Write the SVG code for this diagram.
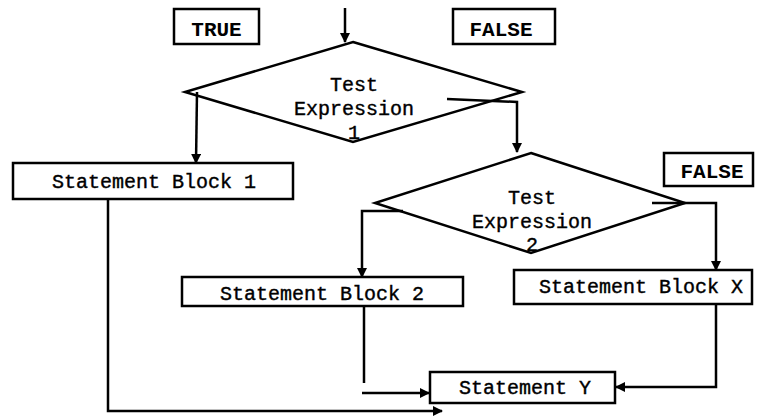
<svg xmlns="http://www.w3.org/2000/svg" width="760" height="416" viewBox="0 0 760 416">
<style>
.box{fill:#fff;stroke:#000;stroke-width:2.5}
.dia{fill:#fff;stroke:#000;stroke-width:2.5;stroke-linejoin:miter}
.t{font-family:"Liberation Mono","Courier New",monospace;font-size:20px;fill:#000;stroke:#000;stroke-width:0.4;text-anchor:middle}
.lbl{font-family:"Liberation Mono","Courier New",monospace;font-size:21px;font-weight:bold;fill:#000;text-anchor:middle}
.c{fill:none;stroke:#000;stroke-width:2.5}
</style>
<defs>
<marker id="ah" markerWidth="10" markerHeight="10" refX="9" refY="5" orient="auto" markerUnits="userSpaceOnUse">
<path d="M0,0 L10,5 L0,10 Z" fill="#000"/>
</marker>
</defs>
<g id="label-true"><rect class="box" x="174" y="9" width="85" height="35"/><text class="lbl" x="216.5" y="36">TRUE</text></g>
<g id="label-false1"><rect class="box" x="453" y="9" width="102" height="35"/><text class="lbl" x="501" y="36">FALSE</text></g>
<g id="label-false2"><rect class="box" x="664" y="153" width="89" height="33"/><text class="lbl" x="712" y="178">FALSE</text></g>
<g id="test1"><polygon class="dia" points="353,42 522,92 353,142 185,92"/>
<text class="t" x="354" y="91">Test</text><text class="t" x="354" y="115">Expression</text><text class="t" x="354" y="139">1</text></g>
<g id="test2"><polygon class="dia" points="531,153 685,203 531,253 375,203"/>
<text class="t" x="532" y="204">Test</text><text class="t" x="532" y="228">Expression</text><text class="t" x="532" y="251">2</text></g>
<g id="block1"><rect class="box" x="13" y="163" width="280" height="36"/><text class="t" x="154" y="188">Statement Block 1</text></g>
<g id="block2"><rect class="box" x="182" y="277" width="281" height="29"/><text class="t" x="322" y="300">Statement Block 2</text></g>
<g id="blockx"><rect class="box" x="514" y="270" width="238" height="34"/><text class="t" x="641" y="293">Statement Block X</text></g>
<g id="stmty"><rect class="box" x="430" y="372" width="185" height="31"/><text class="t" x="525" y="394">Statement Y</text></g>
<g id="connectors">
<line class="c" x1="345" y1="8" x2="345" y2="42" marker-end="url(#ah)"/>
<line class="c" x1="197" y1="92" x2="196" y2="163" marker-end="url(#ah)"/>
<polyline class="c" points="447,99 517,102 517,152" marker-end="url(#ah)"/>
<polyline class="c" points="403,211 362,211 362,277" marker-end="url(#ah)"/>
<polyline class="c" points="652,203 716,203 716,270" marker-end="url(#ah)"/>
<polyline class="c" points="108,199 108,411 442,411" marker-end="url(#ah)"/>
<line class="c" x1="364" y1="305" x2="364" y2="383"/>
<line class="c" x1="362" y1="393" x2="429" y2="393" marker-end="url(#ah)"/>
<polyline class="c" points="716,304 716,387 616,387" marker-end="url(#ah)"/>
</g>
</svg>
